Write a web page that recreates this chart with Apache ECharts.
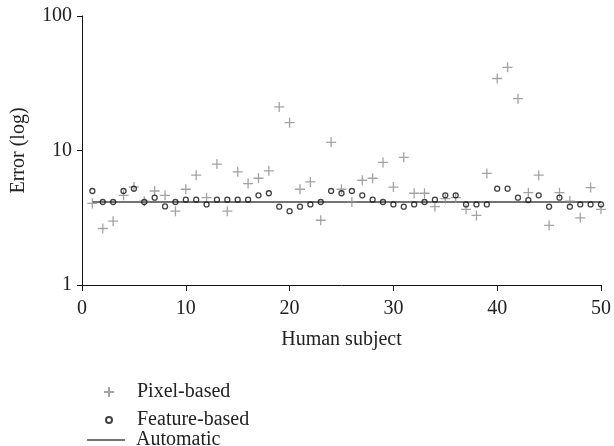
<!DOCTYPE html>
<html>
<head>
<meta charset="utf-8">
<script src="https://cdn.jsdelivr.net/npm/echarts@6/dist/echarts.min.js"></script>
<style>
html, body { margin: 0; padding: 0; background: #fff; }
#chart { width: 614px; height: 446px; }
</style>
</head>
<body>
<div id="chart"></div>
<script>
// subject index on x, error on log y
var subjects = [1, 2, 3, 4, 5, 6, 7, 8, 9, 10, 11, 12, 13, 14, 15, 16, 17, 18, 19, 20,
    21, 22, 23, 24, 25, 26, 27, 28, 29, 30, 31, 32, 33, 34, 35, 36, 37, 38, 39, 40,
    41, 42, 43, 44, 45, 46, 47, 48, 49, 50];
var pixelErr = [4.04, 2.63, 2.98, 4.64, 5.35, 4.2, 5.0, 4.64, 3.54, 5.15,
    6.55, 4.46, 7.92, 3.54, 6.94, 5.68, 6.22, 7.06, 21.1, 16.1,
    5.15, 5.84, 3.03, 11.5, 5.15, 4.14, 6.01, 6.22, 8.16, 5.35,
    8.9, 4.81, 4.81, 3.82, 4.39, 4.46, 3.65, 3.29, 6.75, 34.3,
    41.5, 24.3, 4.86, 6.55, 2.78, 4.86, 4.21, 3.16, 5.3, 3.65];
var featureErr = [5.0, 4.14, 4.14, 5.0, 5.2, 4.14, 4.46, 3.84, 4.14, 4.31,
    4.31, 3.97, 4.31, 4.31, 4.31, 4.31, 4.64, 4.81, 3.82, 3.54,
    3.82, 3.97, 4.14, 5.0, 4.81, 5.0, 4.64, 4.31, 4.14, 3.97,
    3.82, 3.97, 4.14, 4.31, 4.64, 4.64, 3.97, 3.97, 3.97, 5.2,
    5.2, 4.46, 4.28, 4.64, 3.82, 4.46, 3.82, 3.97, 3.97, 3.97];
var automatic = [[1, 4.14], [50, 4.14]];
var xTicks = [0, 10, 20, 30, 40, 50];
var yTicks = [1, 10, 100];

var FONT = '"Liberation Serif", "DejaVu Serif", serif';
var FS = 20;
var crossPath = 'path://M0,5 L10,5 M5,0 L5,10';

function pairs(ys) {
    return subjects.map(function (s, i) { return [s, ys[i]]; });
}

var chart = echarts.init(document.getElementById('chart'));

function legendAt(left, top, w, h, pad, item) {
    return {
        orient: 'vertical',
        left: left,
        top: top,
        itemWidth: w,
        itemHeight: h,
        selectedMode: false,
        textStyle: { fontFamily: FONT, fontSize: FS, color: '#222', padding: [0, 0, 0, pad] },
        data: [item]
    };
}

var option = {
    animation: false,
    backgroundColor: '#fff',
    grid: { left: 82, right: 11, top: 16, bottom: 161, containLabel: false },
    legend: [
        legendAt(98, 377, 10, 10, 18, { name: 'Pixel-based', icon: crossPath }),
        legendAt(100, 405, 6, 6, 20, { name: 'Feature-based', icon: 'circle' }),
        legendAt(82, 425, 38, 1.5, 6, { name: 'Automatic', icon: 'rect', itemStyle: { color: '#444' } })
    ],
    xAxis: {
        type: 'value',
        min: xTicks[0],
        max: xTicks[xTicks.length - 1],
        interval: 10,
        name: 'Human subject',
        nameLocation: 'middle',
        nameGap: 45,
        nameTextStyle: { fontFamily: FONT, fontSize: FS, color: '#222' },
        axisLine: { onZero: false, lineStyle: { color: '#111', width: 1 } },
        axisTick: { show: true, inside: false, length: 6, lineStyle: { color: '#111' } },
        axisLabel: { fontFamily: FONT, fontSize: FS, color: '#222', margin: 14 },
        splitLine: { show: false }
    },
    yAxis: {
        type: 'log',
        logBase: 10,
        min: yTicks[0],
        max: yTicks[yTicks.length - 1],
        name: 'Error (log)',
        nameLocation: 'middle',
        nameGap: 53,
        nameTextStyle: { fontFamily: FONT, fontSize: FS, color: '#222' },
        axisLine: { show: true, lineStyle: { color: '#111', width: 1 } },
        axisTick: { show: true, inside: false, length: 5, lineStyle: { color: '#111' } },
        axisLabel: { fontFamily: FONT, fontSize: FS, color: '#222', margin: 10 },
        minorTick: { show: false },
        splitLine: { show: false }
    },
    series: [
        {
            name: 'Automatic',
            type: 'line',
            data: automatic,
            showSymbol: false,
            symbol: 'none',
            itemStyle: { color: '#444' },
            lineStyle: { color: '#444', width: 1.5 },
            z: 1
        },
        {
            name: 'Pixel-based',
            type: 'scatter',
            data: pairs(pixelErr),
            symbol: crossPath,
            symbolSize: 10,
            itemStyle: { color: 'transparent', borderColor: '#8c8c8c', borderWidth: 1.3 },
            z: 2
        },
        {
            name: 'Feature-based',
            type: 'scatter',
            data: pairs(featureErr),
            symbol: 'circle',
            symbolSize: 5,
            itemStyle: { color: 'transparent', borderColor: '#111', borderWidth: 1.3 },
            z: 3
        }
    ]
};

chart.setOption(option);
</script>
</body>
</html>
